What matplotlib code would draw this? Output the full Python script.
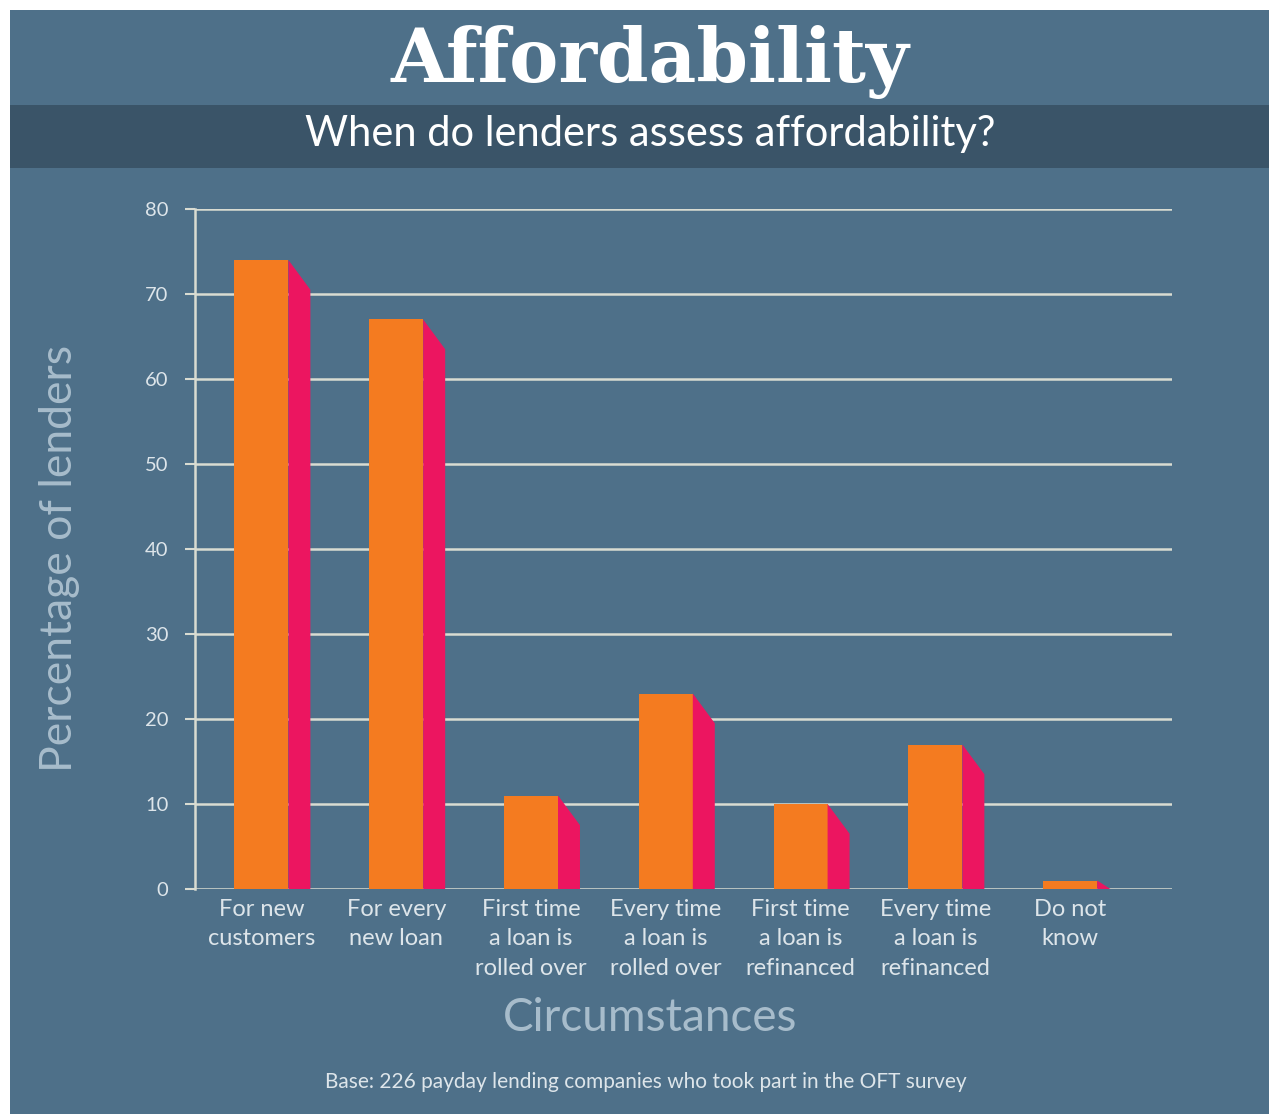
import numpy as np
import matplotlib.pyplot as plt
from matplotlib.patches import Rectangle, Polygon

categories = ['For new\ncustomers', 'For every\nnew loan', 'First time\na loan is\nrolled over',
              'Every time\na loan is\nrolled over', 'First time\na loan is\nrefinanced',
              'Every time\na loan is\nrefinanced', 'Do not\nknow']
values = [74, 67, 11, 23, 10, 17, 1]
yticks = [0, 10, 20, 30, 40, 50, 60, 70, 80]

bg = '#4e7089'
band = '#3a5468'
orange = '#f47b20'
pink = '#ec1560'
grid = '#d9dcd2'
light = '#dde5ea'
faded = '#a7bccb'

plt.rcParams['font.family'] = ['Lato', 'DejaVu Sans']

fig = plt.figure(figsize=(12.69, 11.14), dpi=100, facecolor='white')
W, H = 1269, 1114
# panel and title band
fig.patches.append(Rectangle((10 / W, 0), 1 - 10 / W, 1 - 10 / H, transform=fig.transFigure,
                             facecolor=bg, edgecolor='none', zorder=-2))
fig.patches.append(Rectangle((10 / W, 1 - 168 / H), 1 - 10 / W, 63 / H, transform=fig.transFigure,
                             facecolor=band, edgecolor='none', zorder=-1))

fig.text(650 / W, 1 - 62 / H, 'Affordability', ha='center', va='center', color='white',
         fontsize=53, fontweight='bold', family=['DejaVu Serif'])
fig.text(650 / W, 1 - 134 / H, 'When do lenders assess affordability?', ha='center', va='center',
         color='white', fontsize=30)

ax = fig.add_axes([195 / W, 1 - 889 / H, (1172 - 195) / W, (889 - 209) / H])
ax.set_zorder(2)
ax.set_facecolor('none')

x = np.arange(len(values))
bw = 0.4
depth = 0.163
drop = 3.5
ax.bar(x, values, width=bw, color=orange, zorder=3)
for xi, v in zip(x, values):
    r = xi + bw / 2
    if v > drop:
        pts = [(r, 0), (r, v), (r + depth, v - drop), (r + depth, 0)]
    else:
        pts = [(r, 0), (r, v), (r + depth * 0.6, 0)]
    ax.add_patch(Polygon(pts, closed=True, facecolor=pink, edgecolor='none', zorder=3))

ax.set_xlim(-0.493, 6.755)
ax.set_ylim(0, 80)
ax.set_yticks(yticks)
ax.set_yticklabels([str(t) for t in yticks], color=light, fontsize=14.5)
ax.yaxis.grid(True, color=grid, linewidth=1.8, zorder=1)
ax.set_axisbelow(True)
ax.tick_params(axis='y', length=7, width=1.5, color=grid, pad=12)
ax.tick_params(axis='x', length=0, pad=7)
ax.set_xticks(x)
ax.set_xticklabels(categories, color=light, fontsize=17, linespacing=1.5, va='top')
for s in ['top', 'right', 'bottom']:
    ax.spines[s].set_visible(False)
ax.spines['left'].set_color(grid)
ax.spines['left'].set_linewidth(1.8)

fig.text(60 / W, 1 - 558 / H, 'Percentage of lenders', rotation=90, ha='center', va='center',
         color=faded, fontsize=32)
fig.text(650 / W, 1 - 1018 / H, 'Circumstances', ha='center', va='center', color=faded, fontsize=33)
fig.text(646 / W, 1 - 1082 / H, 'Base: 226 payday lending companies who took part in the OFT survey',
         ha='center', va='center', color=light, fontsize=15)

fig.savefig('out.png', dpi=100, facecolor=fig.get_facecolor())
